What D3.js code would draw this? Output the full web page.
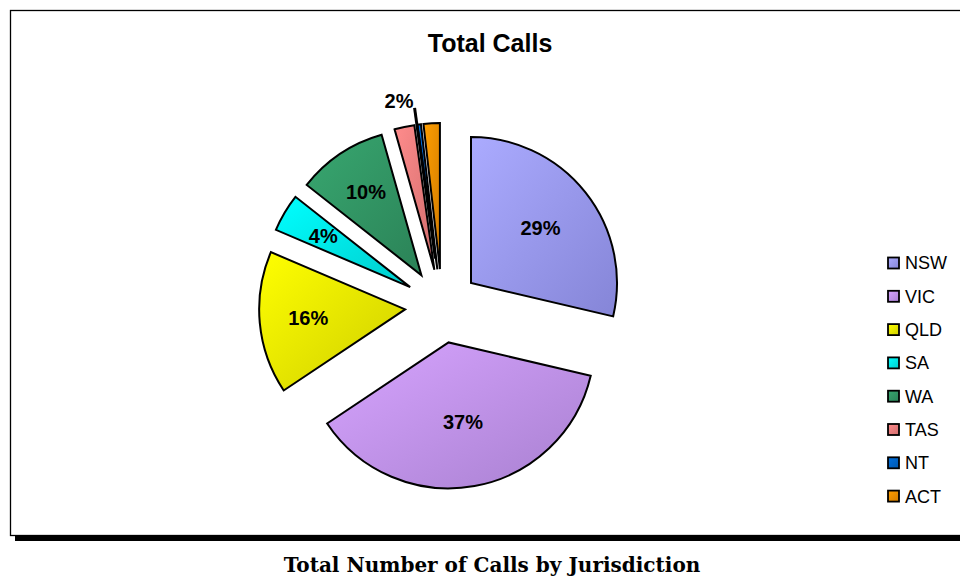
<!DOCTYPE html>
<html>
<head>
<meta charset="utf-8">
<script src="https://cdn.jsdelivr.net/npm/d3@7"></script>
<style>
  html, body { margin: 0; padding: 0; background: #fff; }
  svg { display: block; }
</style>
</head>
<body>
<svg id="chart" width="960" height="576"></svg>
<script>
const categories = ["NSW", "VIC", "QLD", "SA", "WA", "TAS", "NT", "ACT"];
const values = [28.7, 37.0, 15.8, 4.2, 10.0, 2.2, 0.4, 1.8];
const colors = ["#9c9cfc", "#c596f4", "#f2f200", "#00f0f0", "#339966", "#f58080", "#0066cc", "#f59100"];
const showLabel = [true, true, true, true, true, true, false, false];
const chartTitle = "Total Calls";
const caption = "Total Number of Calls by Jurisdiction";

const svg = d3.select("#chart");
const defs = svg.append("defs");

// frame with shadow
svg.append("rect").attr("x", 15).attr("y", 536).attr("width", 960).attr("height", 5).attr("fill", "#000");
svg.append("rect").attr("x", 10.5).attr("y", 10.5).attr("width", 970).attr("height", 525)
  .attr("fill", "#fff").attr("stroke", "#000").attr("stroke-width", 1.3);

// title
svg.append("text").attr("x", 490).attr("y", 52).attr("text-anchor", "middle")
  .attr("font-family", "Liberation Sans, Arial, sans-serif").attr("font-weight", "bold")
  .attr("font-size", 25).text(chartTitle);

// caption
svg.append("text").attr("x", 492).attr("y", 572).attr("text-anchor", "middle")
  .attr("font-family", "DejaVu Serif, serif").attr("font-weight", "bold")
  .attr("font-size", 20).text(caption);

// gradients
colors.forEach((c, i) => {
  const g = defs.append("linearGradient").attr("id", "g" + i)
    .attr("x1", "0%").attr("y1", "0%").attr("x2", "100%").attr("y2", "100%");
  g.append("stop").attr("offset", "0%").attr("stop-color", d3.color(c).brighter(0.25));
  g.append("stop").attr("offset", "100%").attr("stop-color", d3.color(c).darker(0.45));
});

const cx = 442, cy = 306, r = 146, explode = 37;
const total = d3.sum(values);
const pie = d3.pie().sort(null).value(d => d);
const arcs = pie(values);
const arc = d3.arc().innerRadius(0).outerRadius(r);

const g = svg.append("g").attr("transform", `translate(${cx},${cy})`);

arcs.forEach((a, i) => {
  const mid = (a.startAngle + a.endAngle) / 2;
  const ox = explode * Math.sin(mid), oy = -explode * Math.cos(mid);
  const sg = g.append("g").attr("transform", `translate(${ox},${oy})`);
  sg.append("path").attr("d", arc(a)).attr("fill", `url(#g${i})`)
    .attr("stroke", "#000").attr("stroke-width", 2).attr("stroke-linejoin", "miter");
});

// leader line for the crowded small slices
const nt = arcs[categories.indexOf("NT")];
const ntMid = (nt.startAngle + nt.endAngle) / 2 - 0.012;
g.append("line")
  .attr("x1", 48 * Math.sin(ntMid)).attr("y1", -48 * Math.cos(ntMid))
  .attr("x2", 200 * Math.sin(ntMid)).attr("y2", -200 * Math.cos(ntMid))
  .attr("stroke", "#000").attr("stroke-width", 3);

arcs.forEach((a, i) => {
  if (!showLabel[i]) return;
  const mid = (a.startAngle + a.endAngle) / 2;
  const alpha = a.endAngle - a.startAngle;
  const pct = values[i] / total * 100;
  let dist;
  if (pct < 3) dist = explode + r + 26;
  else dist = explode + 4 * r * Math.sin(alpha / 2) / (3 * alpha) + 4;
  const x = dist * Math.sin(mid), y = -dist * Math.cos(mid);
  g.append("text").attr("x", x).attr("y", y).attr("dy", "0.35em")
    .attr("text-anchor", "middle")
    .attr("font-family", "Liberation Sans, Arial, sans-serif").attr("font-weight", "bold")
    .attr("font-size", 20).text(Math.round(pct) + "%");
});

// legend
const y0 = 263, step = 33.3;
const lg = svg.append("g");
categories.forEach((c, i) => {
  const y = y0 + i * step;
  lg.append("rect").attr("x", 888).attr("y", y - 5.5).attr("width", 11).attr("height", 11)
    .attr("fill", `url(#g${i})`).attr("stroke", "#000").attr("stroke-width", 1.8);
  lg.append("text").attr("x", 905).attr("y", y).attr("dy", "0.36em")
    .attr("font-family", "Liberation Sans, Arial, sans-serif").attr("font-size", 18).text(c);
});
</script>
</body>
</html>
